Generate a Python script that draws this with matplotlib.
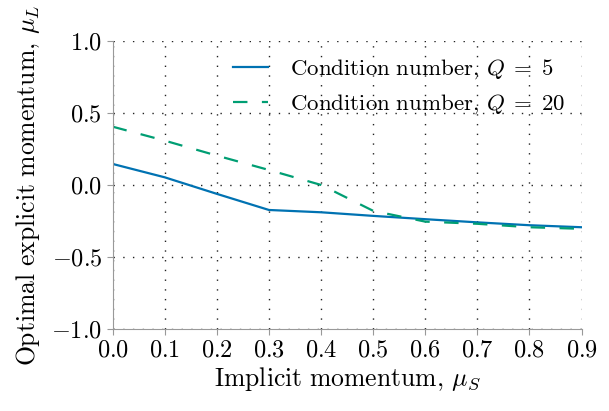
import matplotlib
matplotlib.use("Agg")
import matplotlib.pyplot as plt

plt.rcParams['font.family'] = 'serif'
plt.rcParams['font.serif'] = ['cmr10']
plt.rcParams['mathtext.fontset'] = 'cm'
plt.rcParams['axes.formatter.use_mathtext'] = True

mu_s = [0.0, 0.1, 0.2, 0.3, 0.4, 0.5, 0.6, 0.7, 0.8, 0.9]
mu_l_q5 = [0.146, 0.053, -0.062, -0.174, -0.19, -0.215, -0.238, -0.26, -0.28, -0.294]
mu_l_q20 = [0.405, 0.308, 0.204, 0.104, 0.0, -0.18, -0.255, -0.27, -0.294, -0.305]

fig, ax = plt.subplots(figsize=(6.09, 4.11), dpi=100)
ax.plot(mu_s, mu_l_q5, color="#0072B2", lw=1.6,
        label=r"$\mathrm{Condition\ number},\,Q\;=\;5$")
ax.plot(mu_s, mu_l_q20, color="#009E73", lw=1.6, ls=(0, (6.5, 6.5)),
        label=r"$\mathrm{Condition\ number},\,Q\;=\;20$")

ax.set_xlim(0, 0.9)
ax.set_ylim(-1, 1)
ax.set_xticks(mu_s)
ax.set_yticks([-1.0, -0.5, 0.0, 0.5, 1.0])
ax.grid(True, color="#222222", ls=(0, (1, 6)), lw=1.0)
for s in ["top", "right"]:
    ax.spines[s].set_visible(False)
for s in ["left", "bottom"]:
    ax.spines[s].set_color("#999999")
ax.tick_params(colors="#999999", labelcolor="black", labelsize=17.5, length=4)
ax.set_xlabel(r"$\mathrm{Implicit\ momentum},\,\mu_S$", fontsize=18.5, labelpad=3)
ax.set_ylabel(r"$\mathrm{Optimal\ explicit\ momentum},\,\mu_L$", fontsize=18.5, labelpad=7)
ax.legend(loc="upper right", frameon=False, fontsize=16.5, handlelength=1.5,
          handletextpad=1.0, borderaxespad=0.3)

plt.subplots_adjust(left=0.185, right=0.955, top=0.9, bottom=0.2)
plt.savefig("out.png")
